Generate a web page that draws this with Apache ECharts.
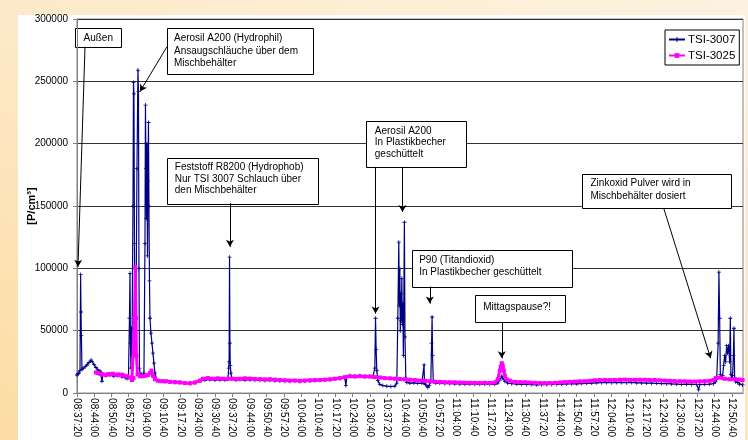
<!DOCTYPE html>
<html>
<head>
<meta charset="utf-8">
<script src="https://cdn.jsdelivr.net/npm/echarts@6/dist/echarts.min.js"></script>
<style>
  html, body { margin: 0; padding: 0; }
  body {
    width: 748px; height: 440px; overflow: hidden; position: relative;
    background: linear-gradient(200deg, #fdf2e0 0%, #fde8c6 45%, #fcdca2 100%);
  }
  #panel { position: absolute; left: 18px; top: 15px; width: 727px; height: 425px; background: #fff; }
  #chart { position: absolute; left: 0; top: 0; width: 748px; height: 440px; }
</style>
</head>
<body>
<div id="panel"></div>
<div id="chart"></div>
<script>
// Measurement start; x values are seconds after this time.
const startTime = '08:37:20';
const tickStep = 400; // 6:40 min between tick labels
const axisEnd = 15460;

// Particle concentration [P/cm³], pairs of [seconds after start, value]
const tsi3007 = [
  [0,14500],[23,15500],[46,16000],[70,18000],[84,95000],[93,65000],[102,46000],[116,19000],[139,20000],[186,21000],
  [232,22500],[278,24500],[325,26500],[348,25500],[394,23000],[441,20500],[487,18500],[534,17500],[557,16500],[580,9500],
  [603,15000],[673,14000],[766,14500],[858,13500],[951,14000],[1044,13000],[1114,12500],[1160,11500],[1195,13000],[1218,60000],
  [1230,96000],[1241,40000],[1253,20000],[1264,52000],[1276,30000],[1299,150000],[1311,249000],[1322,240000],[1334,120000],[1346,30000],
  [1369,60000],[1392,180000],[1415,259000],[1427,242000],[1438,100000],[1450,20000],[1473,14000],[1496,15000],[1531,14000],[1554,16000],
  [1578,120000],[1589,231000],[1601,180000],[1612,140000],[1624,200000],[1636,110000],[1647,170000],[1659,217000],[1670,150000],[1682,90000],
  [1694,60000],[1717,48000],[1740,40000],[1763,32000],[1786,24000],[1810,16000],[1856,10000],[1902,9500],
  [2042,9000],[2158,8800],[2274,8500],[2390,8600],[2506,8000],[2622,7800],[2738,8200],[2854,9500],[2970,10500],[3086,10800],
  [3202,10500],[3318,10600],[3434,10400],[3503,11000],[3522,20000],[3531,25000],[3541,109000],[3550,40000],[3559,22000],[3573,16000],
  [3596,11000],[3689,10500],[3782,10800],[3898,10500],[4014,10700],[4130,10300],[4246,10200],[4362,10000],[4478,10200],[4594,9900],
  [4710,9700],[4826,9500],[4942,9400],[5058,9600],[5174,9300],[5290,9500],[5406,9800],[5522,10000],[5638,10200],[5754,10400],
  [5870,10800],[5986,11200],[6102,11500],[6218,12000],[6241,6000],[6264,13000],[6334,13800],[6450,13500],[6566,13800],[6682,13400],
  [6798,13600],[6867,13000],[6914,20000],[6930,60000],[6944,35000],[6960,18000],[6983,10000],[7030,7000],[7099,6000],[7192,5500],
  [7285,5200],[7378,5500],[7424,8000],[7447,60000],[7470,121000],[7482,70000],[7494,100000],[7505,50000],[7517,80000],[7528,58000],
  [7540,92000],[7552,55000],[7563,72000],[7577,30000],[7600,137000],[7614,45000],[7633,12000],[7656,8500],[7726,8000],[7818,8200],
  [7911,7800],[8004,8000],[8050,8000],[8057,22600],[8066,8000],[8097,6500],[8143,4500],[8178,6000],[8213,9000],[8231,40000],
  [8243,61000],[8254,30000],[8270,9000],[8329,8000],[8422,7800],[8538,7600],[8654,7500],[8770,7400],[8886,7300],[9002,7200],
  [9118,7300],[9234,7100],[9350,7000],[9466,7200],[9582,7100],[9698,7000],[9767,8000],[9814,10500],[9860,13600],[9883,12000],
  [9930,9500],[9999,8000],[10092,7500],[10208,7200],[10324,7000],[10440,6900],[10556,6800],[10672,6600],[10788,6700],[10904,6800],
  [11020,6900],[11136,7000],[11252,7100],[11368,7300],[11484,7500],[11600,7400],[11716,7600],[11832,7800],[11948,8000],[12064,8200],
  [12180,8300],[12296,8400],[12412,8300],[12528,8500],[12644,8400],[12760,8300],[12876,8500],[12992,8200],[13108,8100],[13224,8000],
  [13340,7900],[13456,7800],[13572,7600],[13688,7500],[13804,7300],[13920,7200],[14036,7000],[14152,7100],[14268,6900],[14384,7000],
  [14430,2600],[14454,6800],[14570,7000],[14686,7200],[14778,7500],[14825,9000],[14848,11000],[14883,40000],[14901,97000],[14918,60000],
  [14934,15000],[14964,12000],[14987,14000],[15010,22000],[15034,30000],[15057,25000],[15080,38000],[15103,32000],[15126,38000],[15150,25000],
  [15166,60000],[15180,15000],[15196,12000],[15219,14000],[15236,30000],[15250,52000],[15266,12000],[15289,9000],[15336,8500],[15382,7000],
  [15451,6500]
];

const tsi3025 = [
  [441,16500],[487,16000],[534,15500],[603,15000],[673,14500],[720,15200],[766,15000],[836,15500],[905,14500],[951,15000],
  [998,14500],[1044,14800],[1090,14000],[1160,13500],[1230,12500],[1276,10500],[1311,12000],[1334,60000],[1353,101000],[1369,60000],
  [1380,30000],[1404,15000],[1462,13500],[1531,13500],[1601,14000],[1647,14500],[1694,16000],[1729,18000],[1763,14000],[1810,11000],
  [1879,10000],[1972,9500],[2065,9500],[2158,9000],[2274,8800],[2390,8500],[2506,8000],[2622,7800],[2738,8500],[2854,10000],
  [2923,11500],[3039,12000],[3155,11500],[3271,11800],[3387,11500],[3503,11500],[3596,11600],[3689,11200],[3782,11500],[3898,11800],
  [4014,11600],[4130,11300],[4246,11200],[4362,11000],[4478,11100],[4594,10800],[4710,10500],[4826,10300],[4942,10000],[5058,10100],
  [5174,9800],[5290,10000],[5406,10200],[5522,10400],[5638,10500],[5754,10800],[5870,11000],[5986,11500],[6102,12000],[6218,12800],
  [6334,13500],[6450,13300],[6566,13500],[6682,13200],[6798,13200],[6914,12800],[7030,12500],[7146,12000],[7262,11800],[7378,11500],
  [7494,11300],[7610,11000],[7726,10700],[7842,10500],[7958,10000],[8074,9800],[8190,9500],[8306,9200],[8422,9000],[8538,8800],
  [8654,8700],[8770,8600],[8886,8500],[9002,8400],[9118,8300],[9234,8200],[9350,8200],[9466,8300],[9582,8200],[9698,8500],
  [9767,11000],[9814,18000],[9837,21000],[9860,24000],[9883,22000],[9907,18000],[9930,14000],[9976,11000],[10046,10000],[10162,9000],
  [10278,8800],[10394,8700],[10510,8500],[10626,8300],[10742,8100],[10858,8000],[10974,8100],[11090,8200],[11206,8500],[11322,8800],
  [11438,9000],[11554,9200],[11670,9400],[11786,9500],[11902,9800],[12018,10200],[12134,10400],[12250,10500],[12366,10400],[12482,10500],
  [12598,10700],[12714,10800],[12830,10600],[12946,10600],[13062,10700],[13178,10700],[13294,10500],[13410,10500],[13526,10200],[13642,10000],
  [13758,9800],[13874,9600],[13990,9500],[14106,9400],[14222,9300],[14338,9200],[14454,9400],[14570,9500],[14686,9800],[14778,10500],
  [14825,12000],[14918,12500],[15034,11500],[15150,11000],[15266,11200],[15382,10800],[15451,10500]
];

// Callout notes: box corner and arrow ends in data coordinates
const notes = [
  { lines: ['Außen'], at: [-46, 292800], w: 46, h: 19, tx: 8, ty: 9.5, lh: 12,
    arrow: [[186, 277700], [23, 101300]] },
  { lines: ['Aerosil A200 (Hydrophil)', 'Ansaugschläuche über dem', 'Mischbehälter'], at: [2081, 293100], w: 146, h: 46, tx: 6.5, ty: 9.6, lh: 12.7,
    arrow: [[2088, 277700], [1462, 241800]] },
  { lines: ['Feststoff R8200 (Hydrophob)', 'Nur TSI 3007 Schlauch über', 'den Mischbehälter'], at: [2081, 188900], w: 151, h: 46, tx: 7.3, ty: 8.8, lh: 11.5,
    arrow: [[3550, 152400], [3550, 117300]] },
  { lines: ['Aerosil A200', 'In Plastikbecher', 'geschüttelt'], at: [6698, 218100], w: 100, h: 46, tx: 8.3, ty: 9.3, lh: 11.5,
    arrow: [[6930, 181400], [6930, 63800]] },
  { lines: [], at: null, arrow: [[7556, 181400], [7556, 145200]] },
  { lines: ['P90 (Titandioxid)', 'In Plastikbecher geschüttelt'], at: [7779, 115100], w: 160, h: 37, tx: 6.7, ty: 9.3, lh: 12.7,
    arrow: [[8190, 85400], [8190, 71800]] },
  { lines: ['Mittagspause?!'], at: [9234, 78400], w: 90, h: 27, tx: 7.7, ty: 11.6, lh: 12,
    arrow: [[9860, 56650], [9860, 27900]] },
  { lines: ['Zinkoxid Pulver wird in', 'Mischbehälter dosiert'], at: [11716, 175500], w: 149, h: 34, tx: 8, ty: 9, lh: 13,
    arrow: [[13618, 148400], [14709, 27900]] }
];

const FONT = '"Liberation Sans", Arial, sans-serif';

function clock(sec) {
  const p = startTime.split(':').map(Number);
  let s = p[0] * 3600 + p[1] * 60 + p[2] + sec;
  const h = Math.floor(s / 3600); s -= h * 3600;
  const m = Math.floor(s / 60); s -= m * 60;
  const two = n => String(n).padStart(2, '0');
  return two(h) + ':' + two(m) + ':' + two(s);
}

const chart = echarts.init(document.getElementById('chart'), null, { renderer: 'canvas' });

const plusSymbol = 'path://M4,0H6V10H4Z M0,4H10V6H0Z';

const option = {
  animation: false,
  backgroundColor: 'transparent',
  textStyle: { fontFamily: FONT },
  grid: {
    left: 77, right: 5, top: 19, bottom: 45,
    show: true, borderColor: '#808080', borderWidth: 1, backgroundColor: 'transparent'
  },
  legend: {
    left: 665, top: 30, orient: 'vertical',
    backgroundColor: '#fff', borderColor: '#000', borderWidth: 1,
    padding: [3, 4, 3, 3], itemGap: 3, itemWidth: 16, itemHeight: 6,
    textStyle: { fontFamily: FONT, fontSize: 11.5, color: '#000', padding: [0, 0, 0, -2], lineHeight: 13 },
    data: ['TSI-3007', 'TSI-3025']
  },
  xAxis: {
    type: 'value', min: 0, max: axisEnd, interval: tickStep,
    splitLine: { show: false },
    axisLine: { show: true, lineStyle: { color: '#808080', width: 1 } },
    axisTick: { show: true, length: 4, lineStyle: { color: '#808080' } },
    axisLabel: {
      rotate: -90, margin: 5, fontSize: 10, color: '#000', fontFamily: FONT,
      showMaxLabel: false, formatter: v => clock(v)
    }
  },
  yAxis: {
    type: 'value', min: 0, max: 300000, interval: 50000,
    name: '[P/cm³]', nameLocation: 'middle', nameGap: 40, nameRotate: 90,
    nameMoveOverlap: false,
    nameTextStyle: { fontFamily: FONT, fontSize: 11, fontWeight: 'bold', color: '#000' },
    splitLine: { show: true, lineStyle: { color: '#333', width: 1 } },
    axisLine: { show: true, lineStyle: { color: '#808080', width: 1 } },
    axisTick: { show: true, inside: false, length: 4, lineStyle: { color: '#808080' } },
    axisLabel: { margin: 9, fontSize: 10, color: '#000', fontFamily: FONT, formatter: v => String(v) }
  },
  series: [
    {
      name: 'TSI-3007', type: 'line', data: tsi3007,
      symbol: plusSymbol, symbolSize: 4, showSymbol: true,
      lineStyle: { color: '#000080', width: 1.2 },
      itemStyle: { color: '#000080' },
      z: 2,
      markLine: {
        silent: true, symbol: ['none', 'arrow'], symbolSize: [6, 7], animation: false,
        label: { show: false },
        lineStyle: { color: '#000', width: 1, type: 'solid' },
        data: notes.map(n => [{ coord: n.arrow[0] }, { coord: n.arrow[1] }])
      }
    },
    {
      name: 'TSI-3025', type: 'line', data: tsi3025,
      symbol: 'rect', symbolSize: 4, showSymbol: true,
      lineStyle: { color: '#ff00ff', width: 3 },
      itemStyle: { color: '#ff00ff' },
      z: 3
    }
  ]
};

chart.setOption(option);

// Callout boxes placed at their data anchors
const boxes = notes.filter(n => n.at).map(n => {
  const p = chart.convertToPixel({ gridIndex: 0 }, n.at);
  return {
    type: 'group', x: Math.round(p[0]) + 0.5, y: Math.round(p[1]) + 0.5, z: 100,
    children: [
      { type: 'rect', shape: { x: 0, y: 0, width: n.w, height: n.h },
        style: { fill: '#fff', stroke: '#000', lineWidth: 1 } },
      { type: 'text', x: n.tx, y: n.ty - n.lh / 2,
        style: { text: n.lines.join('\n'), font: '10px ' + FONT, fill: '#000',
                 lineHeight: n.lh, verticalAlign: 'top', align: 'left' } }
    ]
  };
});
chart.setOption({ graphic: boxes });
</script>
</body>
</html>
